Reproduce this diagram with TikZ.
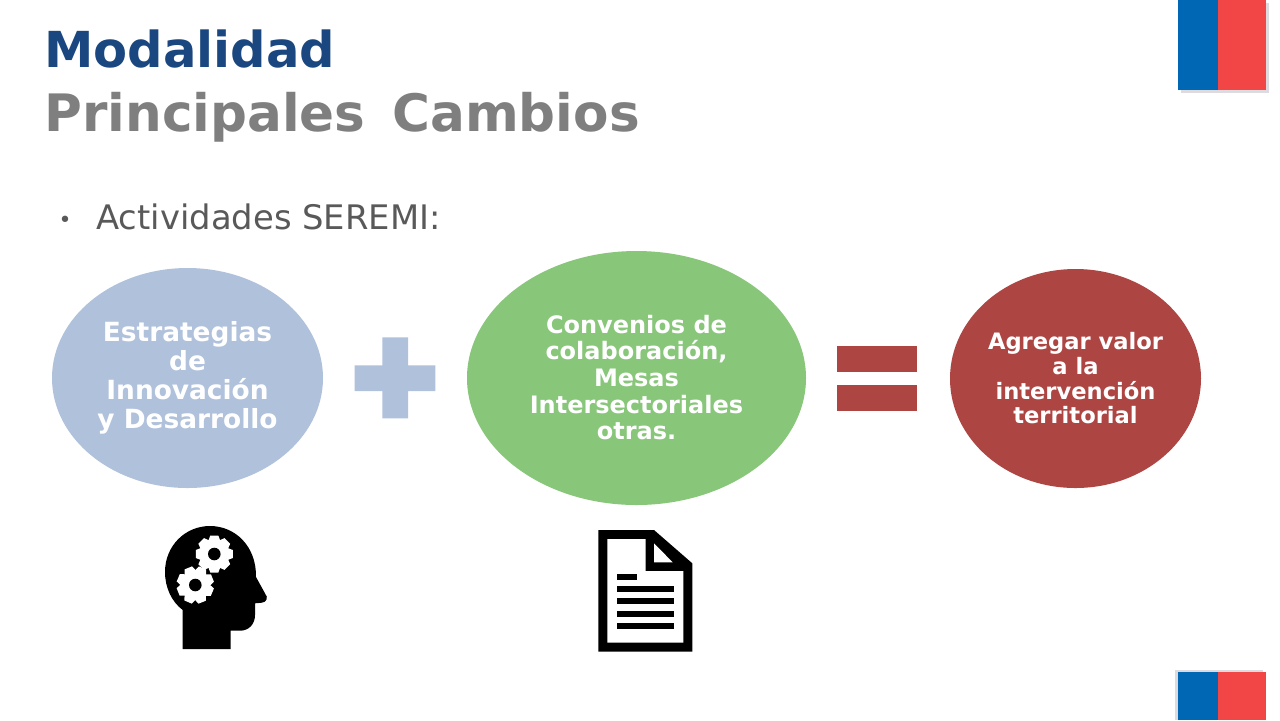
\documentclass[tikz,border=0pt]{standalone}
\usepackage{fontspec}
\setmainfont{DejaVu Sans}
\usepackage{xcolor}
\usetikzlibrary{shapes.geometric}
\usetikzlibrary{positioning}
\definecolor{azultitulo}{HTML}{1A477F}
\definecolor{gristitulo}{HTML}{7F7F7F}
\definecolor{gristexto}{HTML}{595959}
\definecolor{celeste}{HTML}{B0C1DC}
\definecolor{verde}{HTML}{88C67A}
\definecolor{rojizo}{HTML}{AD4543}
\definecolor{azulflag}{HTML}{0067B5}
\definecolor{rojoflag}{HTML}{F24545}
\definecolor{sombraflag}{HTML}{DDDBE0}

\begin{document}
\begin{tikzpicture}[x=0.5pt,y=-0.5pt]
% los estilos
\tikzstyle titulouno=[anchor=base west,inner sep=0,text=azultitulo,font=\fontsize{24.8}{28}\selectfont\bfseries]
\tikzstyle titulodos=[anchor=base west,inner sep=0,text=gristitulo,font=\fontsize{25.8}{28}\selectfont\bfseries]
\tikzstyle textolista=[anchor=base west,inner sep=0,text=gristexto,font=\fontsize{16.9}{20}\selectfont]
\tikzstyle globo=[ellipse,inner sep=0,text=white,align=center,font=\bfseries]
\tikzstyle signoplus=[fill=celeste]
\tikzstyle signoigual=[fill=rojizo]
\tikzstyle rueda=[fill=white]
\newcommand{\rueda}[3]{% centro de la rueda dentada y su giro
  \foreach \a in {0,45,...,315}
    \fill[shift={(#1,#2)},rotate=\a+#3,rueda] (-6.5,-12) -- (-4,-18.5) -- (4,-18.5) -- (6.5,-12) -- cycle;
  \fill[rueda] (#1,#2) circle (14.5);
  \fill (#1,#2) circle (6.3);
}
\useasboundingbox (0,0) rectangle (1280,720);
\fill[white] (0,0) rectangle (1280,720);

% las banderas
\fill[sombraflag] (1181,3) rectangle (1269,93);
\fill[azulflag] (1178,0) rectangle (1218,90);
\fill[rojoflag] (1218,0) rectangle (1266,90);
\fill[sombraflag] (1175,670) rectangle (1263,720);
\fill[azulflag] (1178,672) rectangle (1218,720);
\fill[rojoflag] (1218,672) rectangle (1266,720);

% los textos
\node[titulouno] (modalidad) at (44,67) {Modalidad};
\node[titulodos] (cambios) at (44,131) {Principales\hspace{4.5pt} Cambios};
\node[text=gristexto,inner sep=0,font=\fontsize{11}{11}\selectfont] (punto) at (65,222) {•};
\node[textolista] (actividades) at (96,229) {Actividades SEREMI:};

% los globos
\node[globo,fill=celeste,minimum width=271*0.5pt,minimum height=220*0.5pt,font=\fontsize{13.2}{14.6}\selectfont\bfseries] (estrategias) at (187.5,378) {Estrategias\\de\\Innovación\\y Desarrollo};
\node[globo,fill=verde,minimum width=339*0.5pt,minimum height=254*0.5pt,font=\fontsize{12}{13}\selectfont\bfseries] (convenios) at (636.5,378) {\raisebox{1pt}{Convenios de}\\\raisebox{1pt}{colaboración,}\\\raisebox{0.5pt}{Mesas}\\Intersectoriales\\otras.};
\node[globo,fill=rojizo,minimum width=251*0.5pt,minimum height=219*0.5pt,font=\fontsize{11.3}{12.5}\selectfont\bfseries] (agregar) at (1075.5,378.5) {\raisebox{0.5pt}{Agregar valor}\\\raisebox{0.5pt}{a la}\\\raisebox{0.5pt}{intervención}\\\raisebox{1pt}{territorial}};

% los signos
\fill[signoplus] (382.3,337.3) -- (408,337.3) -- (408,365.3) -- (435.3,365.3) -- (435.3,391) -- (408,391) -- (408,418.3) -- (382.3,418.3) -- (382.3,391) -- (354.7,391) -- (354.7,365.3) -- (382.3,365.3) -- cycle;
\fill[signoigual] (837,346) rectangle (917,372);
\fill[signoigual] (837,385) rectangle (917,411);

% la cabeza
\fill (182.7,649) -- (230.7,649) -- (230.7,630.7) -- (240,630.7) .. controls (249,630.7) and (255,624) .. (255,615) -- (255,603.3) -- (261.7,602.7) .. controls (266,602.5) and (269,598) .. (265,593.3) -- (256,577) .. controls (256.5,546) and (235,526) .. (210,526) .. controls (185,526) and (165,546) .. (165,572) .. controls (165,588) and (172,602) .. (182.7,610) -- cycle;
\rueda{214.3}{554}{0}
\rueda{195.3}{585}{22}

% el documento
\fill (598.3,530) -- (654,530) -- (692.3,563.3) -- (692.3,651.7) -- (598.3,651.7) -- cycle;
\fill[white] (607.3,539) -- (645.7,539) -- (645.7,571) -- (683.3,571) -- (683.3,642.7) -- (607.3,642.7) -- cycle;
\fill[white] (654,543.3) -- (672.7,562.3) -- (654,562.3) -- cycle;
\fill (616.7,574.3) rectangle (636.7,580.3);
\foreach \y in {586.3,598.3,610.7,622.7}
  \fill (616.7,\y) rectangle (674.3,\y+6);
\end{tikzpicture}
\end{document}
